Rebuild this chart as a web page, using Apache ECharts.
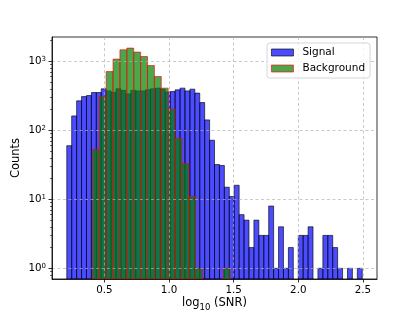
<!DOCTYPE html>
<html><head><meta charset="utf-8">
<script src="https://cdn.jsdelivr.net/npm/echarts@6/dist/echarts.min.js"></script>
<style>html,body{margin:0;padding:0;background:#fff}#c{width:419px;height:314px}</style>
</head><body><div id="c"></div>
<script>
// ---- data ----
const signalBinStart = 0.209;
const signalBinWidth = 0.0381;
const signalCounts = [60,162,268,309,320,354,354,400,374,354,400,380,338,380,374,374,387,400,410,396,
  360,366,387,410,374,396,347,253,142,72,32,31,15,11,16,6,5,2,5,3,
  3,8,1,4,1,2,0,3,3,4,0,1,3,3,2,1,0,1,0,1];
const backgroundBinStart = 0.407;
const backgroundBinWidth = 0.0533;
const backgroundCounts = [53,309,713,1080,1473,1560,1365,1178,872,604,410,205,77,33,11,1,0,0,0,1];
const seriesNames = ['Signal','Background'];
const xTickValues = [0.5,1.0,1.5,2.0,2.5];
const xTickLabels = ['0.5','1.0','1.5','2.0','2.5'];
const yTickValues = [1,10,100,1000];
const yTickExponents = ['0','1','2','3'];
const yMinorTickValues = [0.8,0.9,2,3,4,5,6,7,8,9,20,30,40,50,60,70,80,90,200,300,400,500,600,700,800,900,2000];
const xRange = [0.0947, 2.609];
const yRange = [0.7, 2260];

function binData(start, width, counts){
  return counts.map((c,i)=>[start+i*width, start+(i+1)*width, c]).filter(d=>d[2]>0);
}
function makeRender(fill, stroke){
  return function(params, api){
    const x0 = api.value(0), x1 = api.value(1), c = api.value(2);
    const tl = api.coord([x0, c]);
    const br = api.coord([x1, yRange[0]]);
    return {type:'rect', shape:{x:tl[0], y:tl[1], width:br[0]-tl[0], height:br[1]-tl[1]},
      style:{fill:fill, stroke:stroke, lineWidth:0.9}};
  };
}
const font = 'DejaVu Sans';
const sigFill='rgba(0,0,255,0.7)', sigStroke='rgba(0,0,0,0.7)';
const bgFill='rgba(0,128,0,0.7)', bgStroke='rgba(255,0,0,0.7)';
const gridLine = {show:true, lineStyle:{color:'rgba(176,176,176,0.85)', width:0.8, type:[3,2.5]}};

const chart = echarts.init(document.getElementById('c'), null, {renderer:'canvas'});
chart.setOption({
  animation:false,
  backgroundColor:'#fff',
  grid:{left:52, right:42, top:37, bottom:35, containLabel:false, outerBoundsMode:'none',
    show:true, borderColor:'#000', borderWidth:0.8, backgroundColor:'transparent'},
  legend:{
    orient:'vertical', left:267, top:43,
    padding:[3,5,3,4], itemGap:3, itemWidth:22, itemHeight:7,
    backgroundColor:'rgba(255,255,255,0.8)', borderColor:'#cccccc', borderWidth:0.8, borderRadius:3,
    textStyle:{fontFamily:font, fontSize:10.5, color:'#000', lineHeight:13, padding:[0,0,0,4]},
    data:[
      {name:seriesNames[0], icon:'rect', itemStyle:{color:sigFill, borderColor:sigStroke, borderWidth:0.9}},
      {name:seriesNames[1], icon:'rect', itemStyle:{color:bgFill, borderColor:bgStroke, borderWidth:0.9}}
    ]
  },
  xAxis:{
    type:'value', min:xRange[0], max:xRange[1], z:3,
    name:'{a|log}{s|10}{a| (SNR)}', nameLocation:'middle', nameGap:18, nameMoveOverlap:false,
    nameTextStyle:{fontFamily:font, color:'#000', rich:{
      a:{fontFamily:font, fontSize:11.5, lineHeight:14, verticalAlign:'top', color:'#000'},
      s:{fontFamily:font, fontSize:8.5, lineHeight:10, padding:[6,0,0,0], verticalAlign:'top', color:'#000'}
    }},
    axisLine:{show:true, lineStyle:{color:'#000', width:0.8}},
    axisTick:{show:true, length:3.5, customValues:xTickValues, lineStyle:{color:'#000', width:0.8}},
    axisLabel:{customValues:xTickValues, margin:6, fontFamily:font, fontSize:10.3, color:'#000',
      formatter:function(v){ const i = xTickValues.findIndex(t=>Math.abs(t-v)<1e-9); return i>=0?xTickLabels[i]:''; }},
    splitLine:gridLine
  },
  yAxis:[{
    type:'log', min:yRange[0], max:yRange[1], z:3, position:'left',
    name:'Counts', nameLocation:'middle', nameGap:30, nameMoveOverlap:false,
    nameTextStyle:{fontFamily:font, fontSize:11.5, color:'#000'},
    axisLine:{show:true, lineStyle:{color:'#000', width:0.8}},
    axisTick:{show:true, length:3.5, customValues:yTickValues, lineStyle:{color:'#000', width:0.8}},
    axisLabel:{customValues:yTickValues, margin:6, fontFamily:font, color:'#000',
      formatter:function(v){ const i = yTickValues.findIndex(t=>Math.abs(t-v)/t<1e-6); return '{b|10}{s|'+yTickExponents[i]+'}'; },
      rich:{
        b:{fontFamily:font, fontSize:10.3, lineHeight:12, verticalAlign:'middle', color:'#000'},
        s:{fontFamily:font, fontSize:7, lineHeight:8, padding:[0,0,6,0], verticalAlign:'top', color:'#000'}
      }},
    splitLine:gridLine
  },{
    type:'log', min:yRange[0], max:yRange[1], z:3, position:'left',
    axisLine:{show:false}, axisLabel:{show:false}, splitLine:{show:false},
    axisTick:{show:true, length:2, customValues:yMinorTickValues, lineStyle:{color:'#000', width:0.6}}
  }],
  series:[
    {name:seriesNames[0], type:'custom', renderItem:makeRender(sigFill, sigStroke), clip:true,
     itemStyle:{color:sigFill, borderColor:sigStroke},
     encode:{x:[0,1], y:2}, data:binData(signalBinStart, signalBinWidth, signalCounts)},
    {name:seriesNames[1], type:'custom', renderItem:makeRender(bgFill, bgStroke), clip:true,
     itemStyle:{color:bgFill, borderColor:bgStroke},
     encode:{x:[0,1], y:2}, data:binData(backgroundBinStart, backgroundBinWidth, backgroundCounts)}
  ]
});
</script></body></html>
